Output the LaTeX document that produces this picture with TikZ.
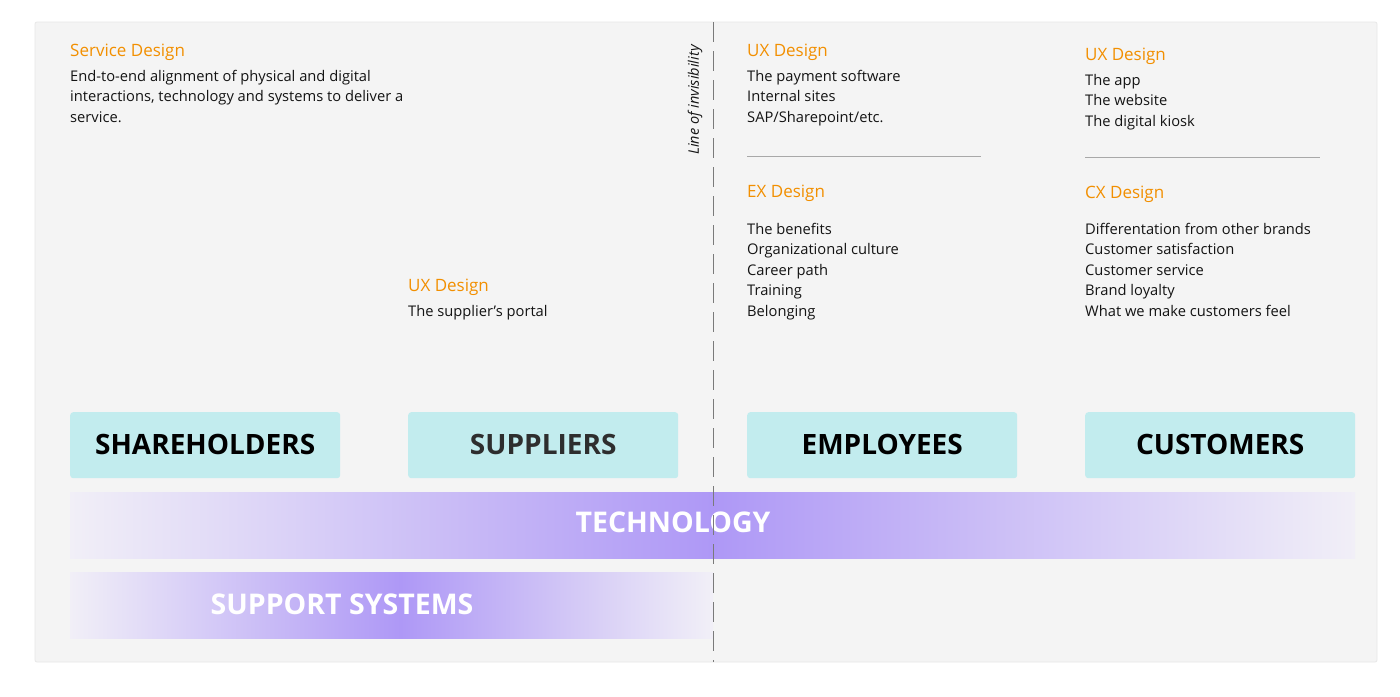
\documentclass[tikz,border=0pt]{standalone}
\usepackage{fontspec}
\setmainfont{Open Sans}
\definecolor{panel}{HTML}{F4F4F4}
\definecolor{panelborder}{HTML}{E8E8E8}
\definecolor{orangehead}{HTML}{F28F00}
\definecolor{bodytext}{HTML}{141414}
\definecolor{boxfill}{HTML}{C2ECEE}
\definecolor{bandpurple}{HTML}{AE98F6}
\definecolor{bandlight}{HTML}{F1EFF7}
\definecolor{dashgray}{HTML}{7A7A7A}
\definecolor{rulegray}{HTML}{A8A8A8}
\pgfdeclarehorizontalshading{techshade}{100bp}{color(0bp)=(bandlight); color(25bp)=(bandlight); color(50bp)=(bandpurple); color(75bp)=(bandlight); color(100bp)=(bandlight)}
\pgfdeclarehorizontalshading{supshade}{100bp}{color(0bp)=(bandlight); color(25bp)=(bandlight); color(50.7bp)=(bandpurple); color(75bp)=(bandlight!90!panel); color(100bp)=(bandlight)}
\begin{document}
\begin{tikzpicture}[x=1pt,y=-1pt,
  head/.style={font=\fontsize{17}{20}\selectfont, text=orangehead, inner sep=0pt, anchor=base west},
  body/.style={font=\fontsize{14.7}{20.5}\selectfont, text=bodytext, inner sep=0pt, anchor=base west, align=left},
  stakebox/.style={fill=boxfill, rounded corners=3pt, minimum width=270pt, minimum height=66pt, inner sep=0pt, font=\fontsize{28}{32}\selectfont\bfseries, text=black, anchor=north west},
  bandlabel/.style={font=\fontsize{28.5}{32}\selectfont\bfseries, text=white, inner sep=0pt},
  divider/.style={draw=rulegray, line width=0.8pt}
]
\useasboundingbox (0,0) rectangle (1400,696);
\fill[white] (0,0) rectangle (1400,696);
% panel
\draw[fill=panel, draw=panelborder, line width=0.8pt, rounded corners=2pt] (35,22) rectangle (1377,662);

% bands
\shade[shading=techshade] (70,492) rectangle (1355,558);
\shade[shading=supshade] (70,572) rectangle (713,638);
\node[bandlabel] (tech) at (673,522) {TECHNOLOGY};
\node[bandlabel] (support) at (342,604) {SUPPORT SYSTEMS};

% line of invisibility
\coordinate (lineTop) at (713,22);
\coordinate (lineBot) at (713,662);
\draw[dashgray, line width=0.8pt, dash pattern=on 20pt off 9pt] (lineTop) -- (lineBot);
\node[font=\fontsize{14.5}{16}\selectfont\itshape, text=bodytext, rotate=90, inner sep=0pt] (invis) at (695,100) {Line of invisibility};

% stakeholder boxes
\node[stakebox] (share) at (70,412) {\raisebox{2pt}{SHAREHOLDERS}};
\node[stakebox, text=black!82] (supp) at (408,412) {\raisebox{2pt}{SUPPLIERS}};
\node[stakebox] (emp) at (747,412) {\raisebox{2pt}{EMPLOYEES}};
\node[stakebox] (cust) at (1085,412) {\raisebox{2pt}{CUSTOMERS}};

% service design (body anchors: baseline of last line)
\node[head] (sdh) at (70,56) {Service Design};
\node[body] (sdb) at (70,122) {End-to-end alignment of physical and digital\\interactions, technology and systems to deliver a\\service.};

% suppliers
\node[head] (suph) at (408,291) {UX Design};
\node[body] (supb) at (408,316) {The supplier’s portal};

% employees
\node[head] (empux) at (747,56) {UX Design};
\node[body] (empuxb) at (747,122) {The payment software\\Internal sites\\SAP/Sharepoint/etc.};
\draw[divider] (747,156) -- (981,156);
\node[head] (empex) at (747,197) {EX Design};
\node[body] (empexb) at (747,316) {The benefits\\Organizational culture\\Career path\\Training\\Belonging};

% customers
\node[head] (custux) at (1085,60) {UX Design};
\node[body] (custuxb) at (1085,126) {The app\\The website\\The digital kiosk};
\draw[divider] (1085,157) -- (1320,157);
\node[head] (custcx) at (1085,198) {CX Design};
\node[body] (custcxb) at (1085,316) {Differentation from other brands\\Customer satisfaction\\Customer service\\Brand loyalty\\What we make customers feel};
\end{tikzpicture}
\end{document}
